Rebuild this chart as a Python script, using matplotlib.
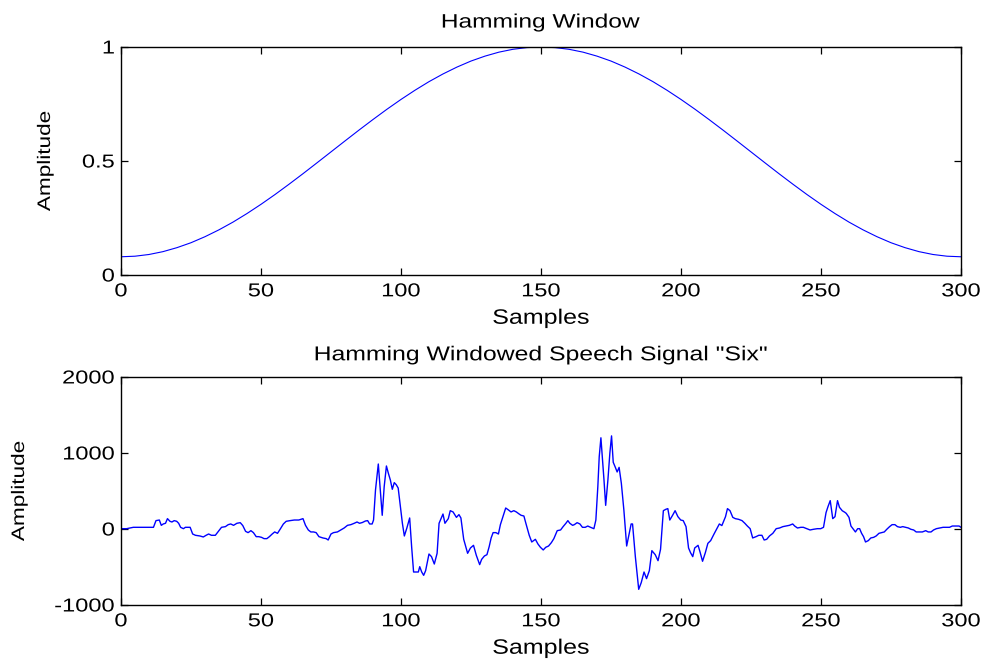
import matplotlib
matplotlib.use("Agg")
import matplotlib.pyplot as plt
from matplotlib.patheffects import AbstractPathEffect
from matplotlib.transforms import Affine2D

# ---------------- data ----------------
window_samples = [0, 5, 10, 15, 20, 25, 30, 35, 40, 45, 50, 55, 60, 65, 70, 75, 80, 85, 90, 95,
                  100, 105, 110, 115, 120, 125, 130, 135, 140, 145, 150, 155, 160, 165, 170,
                  175, 180, 185, 190, 195, 200, 205, 210, 215, 220, 225, 230, 235, 240, 245,
                  250, 255, 260, 265, 270, 275, 280, 285, 290, 295, 300]
window_values = [0.080, 0.0825, 0.090, 0.1025, 0.120, 0.1416, 0.168, 0.1982, 0.232, 0.2696,
                 0.310, 0.3529, 0.398, 0.4444, 0.492, 0.540, 0.588, 0.6356, 0.682, 0.7271,
                 0.770, 0.8104, 0.848, 0.8818, 0.912, 0.9384, 0.960, 0.9775, 0.990, 0.9975,
                 1.000, 0.9975, 0.990, 0.9775, 0.960, 0.9384, 0.912, 0.8818, 0.848, 0.8104,
                 0.770, 0.7271, 0.682, 0.6356, 0.588, 0.540, 0.492, 0.4444, 0.398, 0.3529,
                 0.310, 0.2696, 0.232, 0.1982, 0.168, 0.1416, 0.120, 0.1025, 0.090, 0.0825,
                 0.080]

speech_samples = [
    0, 2, 4.4, 11.6, 12.5, 13.7, 14.4, 15.1, 15.9, 16.6, 17.5, 18.2, 19.0, 19.9, 20.6, 21.3,
    22.3, 23.0, 24.7, 25.6, 26.6, 28.2, 29.4, 30.4, 31.3, 32.3, 33.7, 35.2, 35.9, 37.3, 38.3,
    39.2, 40.2, 41.4, 42.6, 43.5, 44.5, 45.4, 46.4, 47.3, 48.3, 49.2, 50.2, 51.1, 52.1, 53.0,
    54.0, 54.9, 55.9, 56.9, 58.0, 59.0, 60.4, 61.9, 63.5, 65.0, 65.9, 66.9, 67.8, 68.8, 69.7,
    70.7, 72.1, 73.3, 74.0, 75.0, 75.9, 77.3, 78.5, 79.7, 80.9, 82.1, 83.3, 84.3, 85.2, 86.2,
    87.3, 88.1, 88.8, 89.7, 90.2, 90.9, 91.9, 92.6, 93.3, 94.0, 94.8, 95.5, 96.2, 96.9, 97.6,
    98.3, 99.0, 99.8, 100.5, 101.2, 102.1, 103.1, 103.8, 104.5, 105.5, 106.2, 106.7, 107.4,
    108.1, 108.8, 110.0, 110.9, 111.9, 112.9, 113.6, 115.0, 115.7, 116.9, 117.6, 118.6, 119.8,
    120.7, 121.4, 122.4, 123.8, 124.8, 125.9, 126.9, 128.1, 128.8, 129.8, 130.7, 131.5, 132.2,
    132.9, 133.9, 134.8, 135.5, 136.5, 137.4, 138.4, 139.3, 140.3, 141.2, 142.2, 142.9, 143.9,
    144.6, 145.8, 146.7, 148.0, 148.9, 149.8, 150.8, 151.7, 152.7, 153.7, 154.6, 155.8, 157.0,
    157.9, 158.9, 159.6, 160.3, 161.3, 161.9, 162.9, 163.9, 164.8, 165.8, 166.7, 167.7, 168.9,
    169.6, 170.3, 170.8, 171.4, 172.5, 173.1, 173.9, 174.6, 175.2, 175.8, 176.5, 177.2, 177.9,
    178.7, 179.6, 180.6, 181.5, 182.2, 182.7, 183.7, 184.9, 185.8, 186.8, 187.7, 188.7, 189.6,
    190.8, 191.8, 192.7, 193.7, 194.6, 195.3, 196.0, 197.0, 197.9, 198.9, 199.9, 200.8, 201.8,
    202.7, 203.4, 204.2, 204.9, 206.1, 206.8, 207.7, 208.7, 209.6, 210.6, 211.8, 212.7, 213.7,
    214.6, 215.9, 216.6, 217.5, 218.5, 219.4, 220.6, 221.8, 222.8, 223.7, 224.7, 225.6, 226.8,
    227.8, 228.9, 229.7, 230.6, 231.6, 232.8, 234.0, 235.2, 236.4, 237.5, 238.7, 239.9, 240.6,
    241.6, 242.8, 243.7, 244.9, 246.1, 247.3, 248.7, 249.9, 250.9, 251.8, 252.5, 253.3, 254.2,
    255.0, 255.9, 256.6, 257.6, 258.5, 259.0, 260.0, 260.7, 261.4, 262.3, 263.1, 263.8, 264.5,
    265.2, 265.9, 266.9, 267.8, 268.8, 269.7, 270.7, 271.6, 272.6, 273.5, 274.5, 275.4, 276.4,
    277.3, 278.3, 279.2, 280.2, 281.2, 282.1, 283.1, 284.0, 285.0, 286.2, 287.4, 288.3, 289.3,
    290.2, 291.2, 292.4, 293.6, 294.8, 295.9, 296.9, 298.1, 299.3, 300.0]
speech_values = [
    4, 4, 22, 22, 110, 118, 48, 66, 75, 136, 101, 92, 110, 101, 75, 22,
    4, 22, 22, -66, -83, -92, -105, -83, -66, -83, -83, -13, 22, 31, 57,
    66, 48, 75, 83, 45, -31, -48, -22, -48, -101, -101, -110, -127, -127, -101,
    -66, -39, -57, 0, 66, 101, 110, 118, 118, 136, 48, -13, -39, -39, -48,
    -101, -118, -127, -145, -66, -48, -39, -13, 13, 48, 57, 75, 92, 75, 85,
    105, 110, 66, 66, 118, 513, 855, 513, 180, 557, 829, 732, 645, 522, 610,
    583, 539, 294, 75, -92, 13, 145, -232, -566, -566, -566, -496, -566,
    -610, -548, -329, -364, -461, -320, 75, 197, 75, 136, 241, 224, 153,
    189, 145, -136, -320, -250, -215, -346, -469, -400, -355, -338, -232, -118,
    -48, -48, -66, 57, 171, 276, 250, 224, 241, 224, 197, 180, 171,
    75, -83, -171, -136, -197, -241, -276, -241, -224, -180, -127, -22, -13,
    31, 75, 110, 75, 48, 57, 83, 66, 22, 22, 39, 22, 4,
    118, 557, 951, 1200, 645, 311, 645, 1000, 1225, 878, 816, 750, 811,
    601, 250, -224, -57, 66, 66, -364, -794, -706, -566, -653, -548, -285,
    -338, -417, -267, 241, 259, 268, 118, 180, 241, 162, 118, 110, 31,
    -250, -311, -364, -250, -215, -302, -425, -311, -189, -153, -66, -4, 66,
    45, 162, 268, 241, 153, 136, 127, 110, 75, 39, 4, -118, -101,
    -83, -83, -145, -136, -92, -57, 4, 13, 31, 39, 48, 66, 39,
    13, 22, 22, 4, -13, -4, 4, 4, 22, 215, 294, 373, 136,
    162, 373, 285, 240, 220, 206, 153, 39, 4, -39, 4, 4, -57,
    -101, -171, -153, -118, -110, -92, -57, -48, -39, -4, 31, 57, 57,
    31, 22, 31, 22, 13, -4, -13, -39, -39, -39, -22, -39, -39,
    -13, 4, 13, 22, 22, 22, 39, 39, 39, 22]

x_ticks = [0, 50, 100, 150, 200, 250, 300]
x_ticklabels = ["0", "50", "100", "150", "200", "250", "300"]
top_y_ticks = [0, 0.5, 1]
top_y_ticklabels = ["0", "0.5", "1"]
bot_y_ticks = [-1000, 0, 1000, 2000]
bot_y_ticklabels = ["-1000", "0", "1000", "2000"]

top_title = "Hamming Window"
bot_title = 'Hamming Windowed Speech Signal "Six"'
x_label = "Samples"
y_label = "Amplitude"


# --------- helper: horizontally widened glyphs (text stays real text) ---------
class HStretch(AbstractPathEffect):
    def __init__(self, sx, anchor=0.5):
        super().__init__()
        self.sx = sx
        self.anchor = anchor

    def draw_path(self, renderer, gc, tpath, affine, rgbFace=None):
        ext = tpath.get_extents()
        cx = ext.x0 + self.anchor * (ext.x1 - ext.x0)
        t = Affine2D().translate(-cx, 0).scale(self.sx, 1).translate(cx, 0) + affine
        renderer.draw_path(gc, tpath, t, rgbFace)


plt.rcParams['font.family'] = ['Liberation Sans', 'DejaVu Sans']
plt.rcParams['axes.unicode_minus'] = False

fig = plt.figure(figsize=(9.9, 6.63), dpi=100)
fig.patch.set_facecolor('white')

ax1 = fig.add_axes([0.1222, 0.5852, 0.8485, 0.3439])
ax2 = fig.add_axes([0.1222, 0.0875, 0.8485, 0.3439])

ax1.plot(window_samples, window_values, color=(0, 0, 1), lw=0.8)
ax2.plot(speech_samples, speech_values, color=(0, 0, 1), lw=1.0)

TICK_FS = 13.5
TICK_SX = 1.26


def style(ax, yticks, yticklabels, title, title_pad, title_fs, title_sx):
    ax.set_xlim(0, 300)
    ax.set_xticks(x_ticks)
    ax.set_xticklabels(x_ticklabels, fontsize=TICK_FS)
    ax.set_yticks(yticks)
    ax.set_yticklabels(yticklabels, fontsize=TICK_FS)
    for s in ax.spines.values():
        s.set_linewidth(1.0)
        s.set_color('black')
    ax.tick_params(direction='in', length=5, width=0.9, top=True, right=True,
                   colors='black')
    ax.tick_params(axis='x', pad=6)
    ax.tick_params(axis='y', pad=4.5)
    for lab in ax.get_xticklabels():
        lab.set_path_effects([HStretch(TICK_SX, 0.5)])
    for lab in ax.get_yticklabels():
        lab.set_path_effects([HStretch(TICK_SX, 1.0)])
    ax.set_title(title, fontsize=title_fs, pad=title_pad)
    ax.title.set_path_effects([HStretch(title_sx, 0.5)])
    ax.set_xlabel(x_label, fontsize=15)
    ax.xaxis.label.set_path_effects([HStretch(1.2, 0.5)])
    ax.set_ylabel(y_label, fontsize=13)
    ax.yaxis.label.set_path_effects([HStretch(1.25, 0.5)])
    ax.xaxis.set_label_coords(0.5, -0.148)


style(ax1, top_y_ticks, top_y_ticklabels, top_title, 14, 14, 1.26)
ax1.set_ylim(0, 1)
ax1.yaxis.set_label_coords(-0.0798, 0.5)

style(ax2, bot_y_ticks, bot_y_ticklabels, bot_title, 12, 14.5, 1.23)
ax2.set_ylim(-1000, 2000)
ax2.yaxis.set_label_coords(-0.1107, 0.5)

fig.savefig("out.png", dpi=100, facecolor='white')
